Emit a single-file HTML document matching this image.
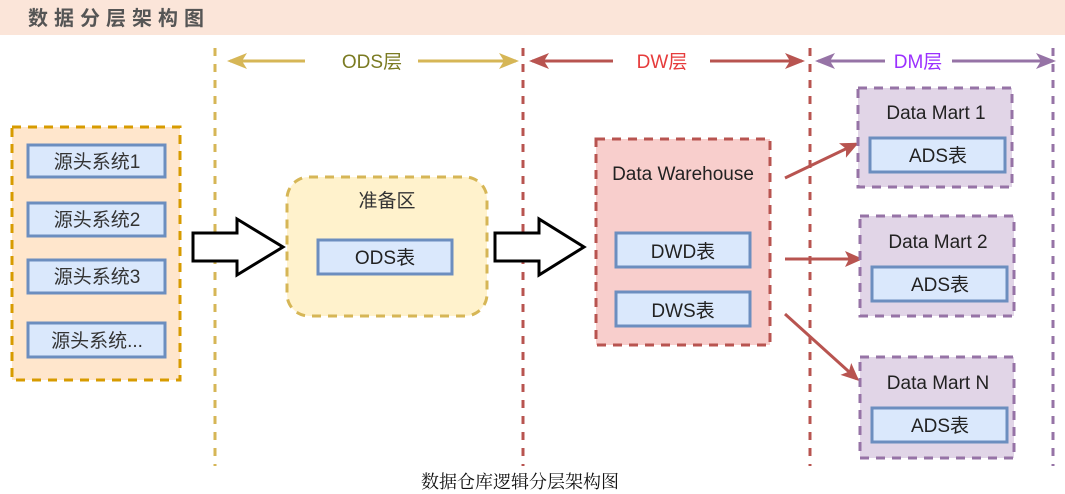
<!DOCTYPE html>
<html><head><meta charset="utf-8"><style>
html,body{margin:0;padding:0;background:#fff;width:1065px;height:494px;overflow:hidden}
svg{display:block}
text{font-family:"Liberation Sans","Noto Sans CJK SC",sans-serif}
</style></head><body>
<svg width="1065" height="494" viewBox="0 0 1065 494" xmlns="http://www.w3.org/2000/svg">
<defs>
<marker id="rA" markerWidth="20" markerHeight="20" refX="17" refY="10" orient="auto" markerUnits="userSpaceOnUse" viewBox="0 0 20 20"><path d="M0,2 L20,10 L0,18 L5,10z" fill="#b85450"/></marker>
<marker id="pA" markerWidth="20" markerHeight="20" refX="17" refY="10" orient="auto" markerUnits="userSpaceOnUse" viewBox="0 0 20 20"><path d="M0,2 L20,10 L0,18 L5,10z" fill="#9673a6"/></marker>
<marker id="yA" markerWidth="20" markerHeight="20" refX="17" refY="10" orient="auto" markerUnits="userSpaceOnUse" viewBox="0 0 20 20"><path d="M0,2 L20,10 L0,18 L5,10z" fill="#d6b656"/></marker>
<marker id="cA" markerWidth="18" markerHeight="18" refX="15" refY="9" orient="auto" markerUnits="userSpaceOnUse" viewBox="0 0 18 18"><path d="M0,1 L18,9 L0,17 L4,9z" fill="#b85450"/></marker>
</defs>
<rect x="0" y="0" width="1065" height="35" fill="#fbe5d9"/>
<text x="28" y="25" font-size="20" font-weight="bold" fill="#555" letter-spacing="6">数据分层架构图</text>

<g stroke-width="3" stroke-dasharray="8,8" fill="none">
<line x1="215" y1="48" x2="215" y2="466" stroke="#d6b656"/>
<line x1="523" y1="48" x2="523" y2="466" stroke="#b85450"/>
<line x1="810" y1="48" x2="810" y2="466" stroke="#b85450"/>
<line x1="1053" y1="48" x2="1053" y2="466" stroke="#9673a6"/>
</g>

<g stroke-width="3" fill="none">
<line x1="305" y1="61" x2="230" y2="61" stroke="#d6b656" marker-end="url(#yA)"/>
<line x1="418" y1="61" x2="516" y2="61" stroke="#d6b656" marker-end="url(#yA)"/>
<line x1="613" y1="61" x2="532" y2="61" stroke="#b85450" marker-end="url(#rA)"/>
<line x1="710" y1="61" x2="802" y2="61" stroke="#b85450" marker-end="url(#rA)"/>
<line x1="885" y1="61" x2="818" y2="61" stroke="#9673a6" marker-end="url(#pA)"/>
<line x1="952" y1="61" x2="1053" y2="61" stroke="#9673a6" marker-end="url(#pA)"/>
</g>
<text x="372" y="68" font-size="19" fill="#7b7b22" text-anchor="middle">ODS层</text>
<text x="662" y="68" font-size="19" fill="#e63c3c" text-anchor="middle">DW层</text>
<text x="918" y="68" font-size="19" fill="#9b30ff" text-anchor="middle">DM层</text>

<rect x="12" y="127" width="168" height="253" fill="#ffe6cc" stroke="#d79b00" stroke-width="3" stroke-dasharray="9,7"/>
<g fill="#dae8fc" stroke="#6c8ebf" stroke-width="3">
<rect x="28" y="145" width="137" height="32"/>
<rect x="28" y="203" width="137" height="33"/>
<rect x="28" y="260" width="137" height="33"/>
<rect x="28" y="323" width="137" height="34"/>
</g>
<g font-size="19" fill="#333" text-anchor="middle">
<text x="97" y="168">源头系统1</text>
<text x="97" y="226">源头系统2</text>
<text x="97" y="283">源头系统3</text>
<text x="97" y="347">源头系统...</text>
</g>

<path d="M193,233 L237,233 L237,219 L283,247 L237,275 L237,261 L193,261 Z" fill="#fff" stroke="#000" stroke-width="3"/>
<path d="M495,233 L539,233 L539,219 L584,247 L539,275 L539,261 L495,261 Z" fill="#fff" stroke="#000" stroke-width="3"/>

<rect x="287" y="177" width="200" height="139" rx="22" fill="#fff2cc" stroke="#d6b656" stroke-width="3" stroke-dasharray="9,7"/>
<text x="387" y="207" font-size="19" fill="#333" text-anchor="middle">准备区</text>
<rect x="318" y="240" width="134" height="34" fill="#dae8fc" stroke="#6c8ebf" stroke-width="3"/>
<text x="385" y="264" font-size="19" fill="#222" text-anchor="middle">ODS表</text>

<rect x="596" y="139" width="174" height="206" fill="#f8cecc" stroke="#b85450" stroke-width="3" stroke-dasharray="9,7"/>
<text x="683" y="180" font-size="19" fill="#222" text-anchor="middle">Data Warehouse</text>
<rect x="616" y="233" width="134" height="34" fill="#dae8fc" stroke="#6c8ebf" stroke-width="3"/>
<text x="683" y="258" font-size="19" fill="#222" text-anchor="middle">DWD表</text>
<rect x="616" y="292" width="134" height="34" fill="#dae8fc" stroke="#6c8ebf" stroke-width="3"/>
<text x="683" y="317" font-size="19" fill="#222" text-anchor="middle">DWS表</text>

<g stroke="#b85450" stroke-width="3" fill="none">
<line x1="785" y1="178" x2="856" y2="144" marker-end="url(#cA)"/>
<line x1="785" y1="259" x2="860" y2="259" marker-end="url(#cA)"/>
<line x1="785" y1="314" x2="857" y2="379" marker-end="url(#cA)"/>
</g>

<g fill="#e1d5e7" stroke="#9673a6" stroke-width="3" stroke-dasharray="9,7">
<rect x="858" y="88" width="154" height="99"/>
<rect x="860" y="216" width="154" height="100"/>
<rect x="860" y="357" width="154" height="101"/>
</g>
<g fill="#dae8fc" stroke="#6c8ebf" stroke-width="3">
<rect x="870" y="138" width="135" height="34"/>
<rect x="872" y="267" width="135" height="34"/>
<rect x="872" y="408" width="135" height="34"/>
</g>
<g font-size="19" fill="#222" text-anchor="middle">
<text x="936" y="119">Data Mart 1</text>
<text x="938" y="248">Data Mart 2</text>
<text x="938" y="389">Data Mart N</text>
<text x="938" y="162">ADS表</text>
<text x="940" y="291">ADS表</text>
<text x="940" y="432">ADS表</text>
</g>

<text x="520" y="488" font-size="18" fill="#111" text-anchor="middle" style='font-family:"Liberation Serif","Noto Serif CJK SC",serif'>数据仓库逻辑分层架构图</text>
</svg>
</body></html>
